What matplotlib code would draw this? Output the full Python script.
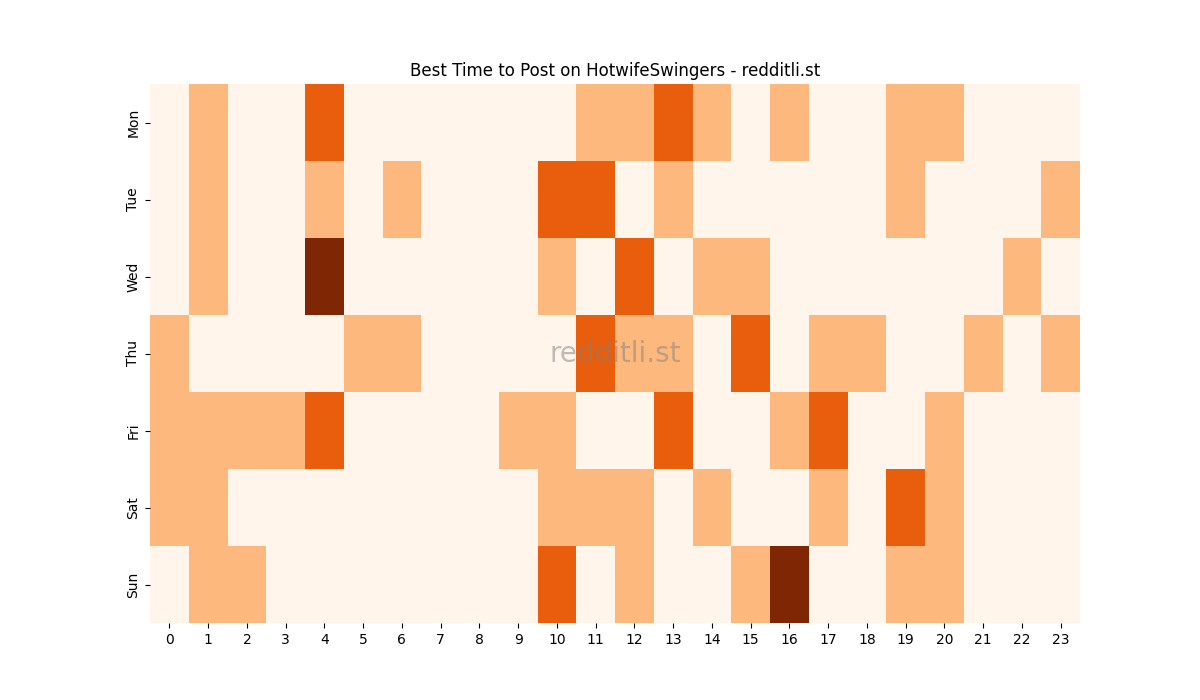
import matplotlib
matplotlib.use("Agg")
import matplotlib.pyplot as plt
import seaborn as sns
import numpy as np

days = ["Mon", "Tue", "Wed", "Thu", "Fri", "Sat", "Sun"]
hours = list(range(24))

mon = [0, 1, 0, 0, 2, 0, 0, 0, 0, 0, 0, 1, 1, 2, 1, 0, 1, 0, 0, 1, 1, 0, 0, 0]
tue = [0, 1, 0, 0, 1, 0, 1, 0, 0, 0, 2, 2, 0, 1, 0, 0, 0, 0, 0, 1, 0, 0, 0, 1]
wed = [0, 1, 0, 0, 3, 0, 0, 0, 0, 0, 1, 0, 2, 0, 1, 1, 0, 0, 0, 0, 0, 0, 1, 0]
thu = [1, 0, 0, 0, 0, 1, 1, 0, 0, 0, 0, 2, 1, 1, 0, 2, 0, 1, 1, 0, 0, 1, 0, 1]
fri = [1, 1, 1, 1, 2, 0, 0, 0, 0, 1, 1, 0, 0, 2, 0, 0, 1, 2, 0, 0, 1, 0, 0, 0]
sat = [1, 1, 0, 0, 0, 0, 0, 0, 0, 0, 1, 1, 1, 0, 1, 0, 0, 1, 0, 2, 1, 0, 0, 0]
sun = [0, 1, 1, 0, 0, 0, 0, 0, 0, 0, 2, 0, 1, 0, 0, 1, 3, 0, 0, 1, 1, 0, 0, 0]

grid = np.array([mon, tue, wed, thu, fri, sat, sun])

fig, ax = plt.subplots(figsize=(12, 7), dpi=100)
sns.heatmap(grid, cmap="Oranges", vmin=0, vmax=3, cbar=False,
            xticklabels=hours, yticklabels=days, ax=ax)
ax.set_title("Best Time to Post on HotwifeSwingers - redditli.st")
ax.tick_params(axis="x", rotation=0)
ax.tick_params(axis="y", rotation=90)
ax.text(0.5, 0.5, "redditli.st", transform=ax.transAxes, fontsize=20,
        color="gray", alpha=0.5, ha="center", va="center")

fig.savefig("out.png")
